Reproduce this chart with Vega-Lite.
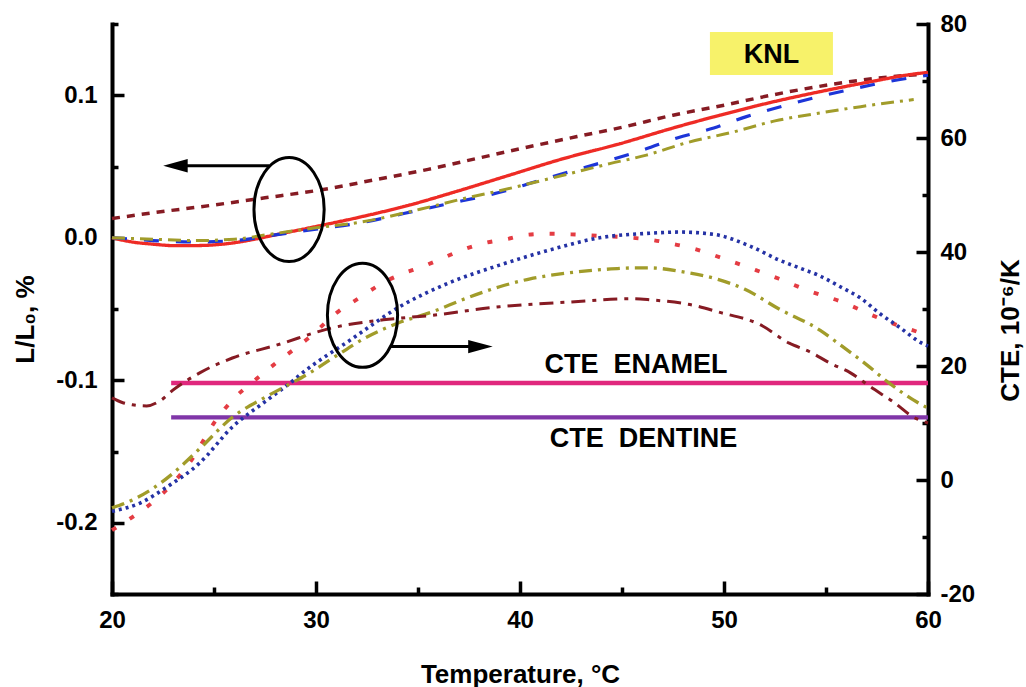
{
  "$schema": "https://vega.github.io/schema/vega-lite/v6.json",
  "width": 816,
  "height": 570,
  "autosize": {"type": "none"},
  "padding": {"left": 112, "top": 24, "right": 98, "bottom": 93},
  "background": "white",
  "config": {
    "view": {"stroke": null},
    "font": "Liberation Sans",
    "axis": {
      "domainColor": "black", "domainWidth": 4, "domainCap": "square",
      "ticks": true, "tickColor": "black", "tickWidth": 3.5, "tickOpacity": 1, "zindex": 1,
      "labelFont": "Liberation Sans", "labelFontSize": 24, "labelFontWeight": "bold", "labelColor": "black",
      "titleFont": "Liberation Sans", "titleFontSize": 26, "titleFontWeight": "bold", "titleColor": "black",
      "grid": false, "labelOverlap": false, "labelFlush": false, "labelBound": false
    }
  },
  "datasets": {
    "lc": [
      {"s": "Lbrown", "T": 20, "v": 0.0135}, {"s": "Lbrown", "T": 22, "v": 0.0175}, {"s": "Lbrown", "T": 25, "v": 0.023},
      {"s": "Lbrown", "T": 27.5, "v": 0.028}, {"s": "Lbrown", "T": 30.2, "v": 0.0335}, {"s": "Lbrown", "T": 33, "v": 0.041},
      {"s": "Lbrown", "T": 35.5, "v": 0.048}, {"s": "Lbrown", "T": 37.9, "v": 0.0557}, {"s": "Lbrown", "T": 40.5, "v": 0.064},
      {"s": "Lbrown", "T": 42.8, "v": 0.071}, {"s": "Lbrown", "T": 45, "v": 0.0775}, {"s": "Lbrown", "T": 47.5, "v": 0.086},
      {"s": "Lbrown", "T": 50, "v": 0.093}, {"s": "Lbrown", "T": 52.3, "v": 0.1}, {"s": "Lbrown", "T": 55, "v": 0.107},
      {"s": "Lbrown", "T": 57.5, "v": 0.112}, {"s": "Lbrown", "T": 60, "v": 0.115},

      {"s": "Lred", "T": 20, "v": 0.0}, {"s": "Lred", "T": 21, "v": -0.003}, {"s": "Lred", "T": 22, "v": -0.0045},
      {"s": "Lred", "T": 23, "v": -0.0055}, {"s": "Lred", "T": 24, "v": -0.0055}, {"s": "Lred", "T": 25, "v": -0.005},
      {"s": "Lred", "T": 26, "v": -0.0035}, {"s": "Lred", "T": 27, "v": -0.001}, {"s": "Lred", "T": 28, "v": 0.002},
      {"s": "Lred", "T": 29.7, "v": 0.007}, {"s": "Lred", "T": 32, "v": 0.014}, {"s": "Lred", "T": 34.6, "v": 0.023},
      {"s": "Lred", "T": 37, "v": 0.033}, {"s": "Lred", "T": 39.5, "v": 0.044}, {"s": "Lred", "T": 42, "v": 0.055},
      {"s": "Lred", "T": 44.9, "v": 0.066}, {"s": "Lred", "T": 47.5, "v": 0.077}, {"s": "Lred", "T": 49.8, "v": 0.086},
      {"s": "Lred", "T": 52.3, "v": 0.095}, {"s": "Lred", "T": 54.7, "v": 0.1025}, {"s": "Lred", "T": 57, "v": 0.109},
      {"s": "Lred", "T": 59.6, "v": 0.1154}, {"s": "Lred", "T": 60, "v": 0.116},

      {"s": "Lblue", "T": 20, "v": 0.0}, {"s": "Lblue", "T": 21, "v": -0.001}, {"s": "Lblue", "T": 22, "v": -0.002},
      {"s": "Lblue", "T": 24, "v": -0.003}, {"s": "Lblue", "T": 26, "v": -0.002}, {"s": "Lblue", "T": 28, "v": 0.002},
      {"s": "Lblue", "T": 30, "v": 0.006}, {"s": "Lblue", "T": 32.2, "v": 0.0105}, {"s": "Lblue", "T": 34.3, "v": 0.017},
      {"s": "Lblue", "T": 36.2, "v": 0.023}, {"s": "Lblue", "T": 39.3, "v": 0.033}, {"s": "Lblue", "T": 40.9, "v": 0.04},
      {"s": "Lblue", "T": 42.6, "v": 0.047}, {"s": "Lblue", "T": 44.3, "v": 0.054}, {"s": "Lblue", "T": 46.1, "v": 0.062},
      {"s": "Lblue", "T": 47.7, "v": 0.07}, {"s": "Lblue", "T": 49.5, "v": 0.077}, {"s": "Lblue", "T": 51.1, "v": 0.085},
      {"s": "Lblue", "T": 52.9, "v": 0.0925}, {"s": "Lblue", "T": 54.5, "v": 0.0985}, {"s": "Lblue", "T": 56.2, "v": 0.104},
      {"s": "Lblue", "T": 58, "v": 0.1095}, {"s": "Lblue", "T": 60, "v": 0.114},

      {"s": "Lolive", "T": 20, "v": 0.0}, {"s": "Lolive", "T": 22, "v": -0.001}, {"s": "Lolive", "T": 24, "v": -0.002},
      {"s": "Lolive", "T": 26, "v": -0.001}, {"s": "Lolive", "T": 28, "v": 0.003}, {"s": "Lolive", "T": 30, "v": 0.007},
      {"s": "Lolive", "T": 32.2, "v": 0.011}, {"s": "Lolive", "T": 35.1, "v": 0.02}, {"s": "Lolive", "T": 37.1, "v": 0.027},
      {"s": "Lolive", "T": 39, "v": 0.033}, {"s": "Lolive", "T": 41.6, "v": 0.042}, {"s": "Lolive", "T": 44.4, "v": 0.052},
      {"s": "Lolive", "T": 46.2, "v": 0.058}, {"s": "Lolive", "T": 48.25, "v": 0.067}, {"s": "Lolive", "T": 50.4, "v": 0.074},
      {"s": "Lolive", "T": 52.5, "v": 0.082}, {"s": "Lolive", "T": 54.9, "v": 0.088}, {"s": "Lolive", "T": 56.7, "v": 0.092},
      {"s": "Lolive", "T": 59.3, "v": 0.097}
    ],
    "cc": [
      {"s": "enamel", "T": 22.9, "v": 17}, {"s": "enamel", "T": 60, "v": 17},
      {"s": "dentine", "T": 22.9, "v": 11}, {"s": "dentine", "T": 60, "v": 11},

      {"s": "Cred", "T": 20, "v": -8.8}, {"s": "Cred", "T": 21, "v": -6.5}, {"s": "Cred", "T": 22, "v": -3.9},
      {"s": "Cred", "T": 23, "v": -0.5}, {"s": "Cred", "T": 23.8, "v": 3.0}, {"s": "Cred", "T": 25.1, "v": 10.5},
      {"s": "Cred", "T": 26, "v": 14.4}, {"s": "Cred", "T": 26.9, "v": 17.2}, {"s": "Cred", "T": 28.1, "v": 20.7},
      {"s": "Cred", "T": 29.1, "v": 23.4}, {"s": "Cred", "T": 29.7, "v": 25.1}, {"s": "Cred", "T": 31, "v": 29.3},
      {"s": "Cred", "T": 32.1, "v": 31.9}, {"s": "Cred", "T": 33.1, "v": 34.2}, {"s": "Cred", "T": 34.1, "v": 36},
      {"s": "Cred", "T": 35.2, "v": 37.4}, {"s": "Cred", "T": 36.2, "v": 38.9}, {"s": "Cred", "T": 37.2, "v": 40.4},
      {"s": "Cred", "T": 38.3, "v": 41.6}, {"s": "Cred", "T": 39.4, "v": 42.3}, {"s": "Cred", "T": 40.3, "v": 43},
      {"s": "Cred", "T": 41.4, "v": 43.2}, {"s": "Cred", "T": 42.5, "v": 43.1}, {"s": "Cred", "T": 44, "v": 42.8},
      {"s": "Cred", "T": 45.5, "v": 42.5}, {"s": "Cred", "T": 46.5, "v": 42.1}, {"s": "Cred", "T": 47.5, "v": 41.4},
      {"s": "Cred", "T": 48.5, "v": 40.6}, {"s": "Cred", "T": 50, "v": 38.8}, {"s": "Cred", "T": 51.5, "v": 36.9},
      {"s": "Cred", "T": 52.7, "v": 35.3}, {"s": "Cred", "T": 54, "v": 33.4}, {"s": "Cred", "T": 55.8, "v": 31.2},
      {"s": "Cred", "T": 57.8, "v": 28.1}, {"s": "Cred", "T": 60, "v": 25.4},

      {"s": "Cblue", "T": 20, "v": -5.5}, {"s": "Cblue", "T": 21.4, "v": -4}, {"s": "Cblue", "T": 22.7, "v": -1.2},
      {"s": "Cblue", "T": 24.3, "v": 3}, {"s": "Cblue", "T": 25.9, "v": 9.3}, {"s": "Cblue", "T": 27.6, "v": 14},
      {"s": "Cblue", "T": 28.9, "v": 17.5}, {"s": "Cblue", "T": 29.2, "v": 18.4}, {"s": "Cblue", "T": 31.7, "v": 24.6},
      {"s": "Cblue", "T": 34.1, "v": 30.4}, {"s": "Cblue", "T": 36.6, "v": 34.7}, {"s": "Cblue", "T": 39, "v": 37.7},
      {"s": "Cblue", "T": 41.5, "v": 40.4}, {"s": "Cblue", "T": 43.9, "v": 42.5}, {"s": "Cblue", "T": 46.4, "v": 43.3},
      {"s": "Cblue", "T": 47.8, "v": 43.5}, {"s": "Cblue", "T": 49.5, "v": 43.1}, {"s": "Cblue", "T": 51.3, "v": 41},
      {"s": "Cblue", "T": 52.7, "v": 38.6}, {"s": "Cblue", "T": 53.7, "v": 37.2}, {"s": "Cblue", "T": 54.7, "v": 35.8},
      {"s": "Cblue", "T": 55.7, "v": 33.9}, {"s": "Cblue", "T": 56.7, "v": 31.9}, {"s": "Cblue", "T": 57.6, "v": 29.3},
      {"s": "Cblue", "T": 58.6, "v": 26.8}, {"s": "Cblue", "T": 59.7, "v": 24}, {"s": "Cblue", "T": 60, "v": 23.5},

      {"s": "Colive", "T": 20, "v": -4.9}, {"s": "Colive", "T": 21, "v": -3.5}, {"s": "Colive", "T": 22, "v": -1.5},
      {"s": "Colive", "T": 23, "v": 1.2}, {"s": "Colive", "T": 24.3, "v": 5.5}, {"s": "Colive", "T": 25.9, "v": 11},
      {"s": "Colive", "T": 27.5, "v": 14.5}, {"s": "Colive", "T": 28.8, "v": 17}, {"s": "Colive", "T": 29.7, "v": 18.8},
      {"s": "Colive", "T": 31, "v": 21.8}, {"s": "Colive", "T": 32.5, "v": 25.1}, {"s": "Colive", "T": 34, "v": 27.5},
      {"s": "Colive", "T": 35.7, "v": 29.5}, {"s": "Colive", "T": 37.3, "v": 31.8}, {"s": "Colive", "T": 39, "v": 33.9},
      {"s": "Colive", "T": 40.5, "v": 35.3}, {"s": "Colive", "T": 42.3, "v": 36.3}, {"s": "Colive", "T": 44, "v": 36.9},
      {"s": "Colive", "T": 45.5, "v": 37.2}, {"s": "Colive", "T": 46.4, "v": 37.2}, {"s": "Colive", "T": 48, "v": 36.5},
      {"s": "Colive", "T": 49.7, "v": 35.2}, {"s": "Colive", "T": 51, "v": 33.5}, {"s": "Colive", "T": 52.7, "v": 30},
      {"s": "Colive", "T": 54.7, "v": 26.3}, {"s": "Colive", "T": 55.7, "v": 23.7}, {"s": "Colive", "T": 57, "v": 20.2},
      {"s": "Colive", "T": 58.1, "v": 17}, {"s": "Colive", "T": 59.3, "v": 14}, {"s": "Colive", "T": 60, "v": 12.6},

      {"s": "Cbrown", "T": 20, "v": 14.4}, {"s": "Cbrown", "T": 20.5, "v": 13.6}, {"s": "Cbrown", "T": 21, "v": 13.2},
      {"s": "Cbrown", "T": 21.7, "v": 13}, {"s": "Cbrown", "T": 22.4, "v": 14}, {"s": "Cbrown", "T": 23, "v": 15.8},
      {"s": "Cbrown", "T": 24.3, "v": 18.8}, {"s": "Cbrown", "T": 25.9, "v": 21.4}, {"s": "Cbrown", "T": 28.1, "v": 23.7},
      {"s": "Cbrown", "T": 30.8, "v": 26.7}, {"s": "Cbrown", "T": 33.3, "v": 28.1}, {"s": "Cbrown", "T": 35.7, "v": 28.9},
      {"s": "Cbrown", "T": 39, "v": 30.4}, {"s": "Cbrown", "T": 42.3, "v": 31.2}, {"s": "Cbrown", "T": 45.5, "v": 31.8},
      {"s": "Cbrown", "T": 46.4, "v": 31.6}, {"s": "Cbrown", "T": 48.7, "v": 30.5}, {"s": "Cbrown", "T": 49.7, "v": 29.5},
      {"s": "Cbrown", "T": 51.8, "v": 27.2}, {"s": "Cbrown", "T": 53.2, "v": 24}, {"s": "Cbrown", "T": 54.2, "v": 22.5},
      {"s": "Cbrown", "T": 55.2, "v": 20.5}, {"s": "Cbrown", "T": 56.2, "v": 18.8}, {"s": "Cbrown", "T": 57.2, "v": 16.3},
      {"s": "Cbrown", "T": 58.3, "v": 13.7}, {"s": "Cbrown", "T": 59.3, "v": 11}, {"s": "Cbrown", "T": 60, "v": 10}
    ]
  },
  "encoding": {
    "x": {
      "field": "T", "type": "quantitative",
      "scale": {"domain": [20, 60], "nice": false, "zero": false},
      "axis": {
        "orient": "bottom",
        "values": [20, 30, 40, 50, 60],
        "format": "d",
        "ticks": true,
        "tickSize": -13,
        "labelPadding": 27,
        "title": "Temperature, °C",
        "titleX": 408, "titleY": 88, "titleBaseline": "alphabetic", "titleAlign": "center"
      }
    }
  },
  "layer": [
    {
      "resolve": {"axis": {"y": "independent"}},
      "layer": [
        {
          "encoding": {
            "y": {
              "field": "v", "type": "quantitative",
              "scale": {"domain": [-0.25, 0.15], "nice": false, "zero": false},
              "axis": {
                "orient": "left",
                "values": [-0.2, -0.1, 0, 0.1],
                "format": ".1f",
                "labelExpr": "replace(datum.label, '−', '-')",
                "ticks": true,
                "tickSize": -12,
                "labelPadding": 27,
                "title": "L/L₀, %",
                "titleAngle": 270, "titleX": -79, "titleY": 295, "titleBaseline": "alphabetic", "titleAlign": "center"
              }
            }
          },
          "layer": [
            {
              "data": {"name": "lc"},
              "mark": {"type": "line", "interpolate": "monotone"},
              "encoding": {
                "color": {"field": "s", "type": "nominal", "legend": null,
                  "scale": {"domain": ["Lbrown", "Lred", "Lblue", "Lolive"], "range": ["#861b23", "#ee2b25", "#1d35d8", "#a19c2a"]}},
                "strokeDash": {"field": "s", "type": "nominal", "legend": null,
                  "scale": {"domain": ["Lbrown", "Lred", "Lblue", "Lolive"], "range": [[8, 7], [1, 0], [15, 17], [13, 6, 3, 6]]}},
                "strokeWidth": {"field": "s", "type": "ordinal", "legend": null,
                  "scale": {"domain": ["Lbrown", "Lred", "Lblue", "Lolive"], "range": [3.5, 3, 4, 3.5]}}
              }
            },
            {
              "data": {"values": [{"T": 28.68, "v": 0.0198}]},
              "mark": {"type": "point", "shape": "M -0.675 0 A 0.675 1 0 1 1 0.675 0 A 0.675 1 0 1 1 -0.675 0 Z", "size": 10816, "filled": false, "stroke": "black", "strokeWidth": 3, "opacity": 1}
            },
            {
              "data": {"values": [{"T": 23.11, "T2": 27.7, "v": 0.0506}]},
              "mark": {"type": "rule", "color": "black", "strokeWidth": 3},
              "encoding": {"x2": {"field": "T2"}}
            }
          ]
        },
        {
          "data": {"values": [{"T": 23.11, "v": 0.0506}]},
          "mark": {"type": "point", "shape": "M -1 0 L 1 -0.55 L 1 0.55 Z", "size": 600, "filled": true, "color": "black", "opacity": 1},
          "encoding": {
            "y": {
              "field": "v", "type": "quantitative",
              "scale": {"domain": [-0.25, 0.15], "nice": false, "zero": false},
              "axis": {
                "orient": "left",
                "values": [-0.25, -0.15, -0.05, 0.05, 0.15],
                "labels": false, "domain": false, "title": null,
                "ticks": true,
                "tickSize": -6
              }
            }
          }
        }
      ]
    },
    {
      "resolve": {"axis": {"y": "independent"}},
      "encoding": {
        "x": {
          "field": "T", "type": "quantitative",
          "scale": {"domain": [20, 60], "nice": false, "zero": false},
          "axis": {
            "orient": "bottom",
            "values": [25, 35, 45, 55],
            "labels": false, "domain": false, "title": null,
            "ticks": true,
            "tickSize": -7
          }
        }
      },
      "layer": [
        {
          "encoding": {
            "y": {
              "field": "v", "type": "quantitative",
              "scale": {"domain": [-20, 80], "nice": false, "zero": false},
              "axis": {
                "orient": "right",
                "values": [-20, 0, 20, 40, 60, 80],
                "format": "d",
                "labelExpr": "replace(datum.label, '−', '-')",
                "ticks": true,
                "tickSize": -12,
                "labelPadding": 24,
                "title": "CTE, 10⁻⁶/K",
                "titleAngle": 270, "titleX": 90, "titleY": 306, "titleBaseline": "alphabetic", "titleAlign": "center"
              }
            }
          },
          "layer": [
            {
              "data": {"name": "cc"},
              "mark": {"type": "line", "interpolate": "monotone"},
              "encoding": {
                "color": {"field": "s", "type": "nominal", "legend": null,
                  "scale": {"domain": ["enamel", "dentine", "Cred", "Cblue", "Colive", "Cbrown"], "range": ["#e0287d", "#8036a8", "#e43c43", "#2532a5", "#a19c2a", "#861b23"]}},
                "strokeDash": {"field": "s", "type": "nominal", "legend": null,
                  "scale": {"domain": ["enamel", "dentine", "Cred", "Cblue", "Colive", "Cbrown"], "range": [[1, 0], [1, 0], [5, 16], [3, 4], [13, 6, 3, 6], [14, 7, 4, 7]]}},
                "strokeWidth": {"field": "s", "type": "ordinal", "legend": null,
                  "scale": {"domain": ["enamel", "dentine", "Cred", "Cblue", "Colive", "Cbrown"], "range": [4.5, 3, 4, 3.5, 3.5, 3.5]}}
              }
            },
            {
              "data": {"values": [{"T": 32.28, "v": 28.9}]},
              "mark": {"type": "point", "shape": "M -0.675 0 A 0.675 1 0 1 1 0.675 0 A 0.675 1 0 1 1 -0.675 0 Z", "size": 10816, "filled": false, "stroke": "black", "strokeWidth": 3, "opacity": 1}
            },
            {
              "data": {"values": [{"T": 33.63, "T2": 38.06, "v": 23.4}]},
              "mark": {"type": "rule", "color": "black", "strokeWidth": 3},
              "encoding": {"x2": {"field": "T2"}}
            },
            {
              "data": {"values": [{"T": 49.31, "T2": 55.34, "v": 78.6, "v2": 71.05}]},
              "mark": {"type": "rect", "color": "#f7f26a"},
              "encoding": {"x2": {"field": "T2"}, "y2": {"field": "v2"}}
            },
            {
              "data": {"values": [
                {"label": "KNL", "T": 52.33, "v": 73.1},
                {"label": "CTE\u00a0 ENAMEL", "T": 45.69, "v": 18.8},
                {"label": "CTE\u00a0 DENTINE", "T": 46.05, "v": 5.8}
              ]},
              "mark": {"type": "text", "font": "Liberation Sans", "fontSize": 27, "fontWeight": "bold", "color": "black", "align": "center", "baseline": "alphabetic"},
              "encoding": {"text": {"field": "label"}}
            }
          ]
        },
        {
          "data": {"values": [{"T": 38.06, "v": 23.4}]},
          "mark": {"type": "point", "shape": "M 1 0 L -1 -0.55 L -1 0.55 Z", "size": 600, "filled": true, "color": "black", "opacity": 1},
          "encoding": {
            "y": {
              "field": "v", "type": "quantitative",
              "scale": {"domain": [-20, 80], "nice": false, "zero": false},
              "axis": {
                "orient": "right",
                "values": [-10, 10, 30, 50, 70],
                "labels": false, "domain": false, "title": null,
                "ticks": true,
                "tickSize": -6
              }
            }
          }
        }
      ]
    }
  ],
  "resolve": {
    "scale": {"y": "independent", "color": "independent", "strokeDash": "independent", "strokeWidth": "independent"},
    "axis": {"x": "independent"}
  }
}
